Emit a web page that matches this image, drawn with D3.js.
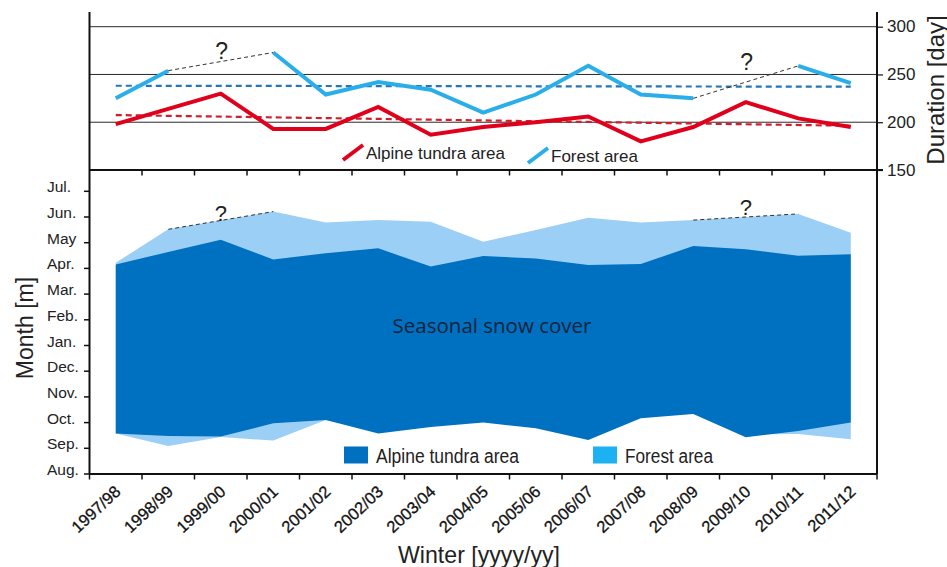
<!DOCTYPE html>
<html>
<head>
<meta charset="utf-8">
<script src="https://cdn.jsdelivr.net/npm/d3@7"></script>
<style>
  html, body { margin: 0; padding: 0; background: #fff; }
  svg { display: block; font-family: "Liberation Sans", Arial, sans-serif; }
</style>
</head>
<body>
<svg id="chart" width="947" height="567"></svg>
<script>
// Winters (Aug–Jul seasons)
const winters = ["1997/98", "1998/99", "1999/00", "2000/01", "2001/02", "2002/03", "2003/04",
  "2004/05", "2005/06", "2006/07", "2007/08", "2008/09", "2009/10", "2010/11", "2011/12"];

// Snow cover duration [days]; null = no record
const durationTundra = [198, 214, 230, 193, 193, 216, 187, 195, 200, 206, 180, 195, 221, 204, 195];
const durationForest = [225, 254, null, 273, 229, 242, 234, 210, 229, 259, 229, 225, null, 259, 241];

// Linear trends of duration (first winter, last winter)
const trendTundra = [207.5, 196.3];
const trendForest = [238.2, 237.2];

// Onset and melt-out of seasonal snow, in months after 1 August
const tundraStart = [1.58, 1.48, 1.46, 1.97, 2.10, 1.58, 1.83, 2.00, 1.78, 1.32, 2.17, 2.33, 1.43, 1.67, 2.00];
const tundraEnd   = [8.15, 8.64, 9.11, 8.35, 8.59, 8.78, 8.07, 8.48, 8.39, 8.13, 8.17, 8.87, 8.75, 8.49, 8.55];
const forestStart = [1.58, 1.09, 1.44, 1.30, 2.10, 1.68, 1.93, 2.10, 1.88, 1.42, 2.27, 2.43, 1.54, 1.56, 1.35];
const forestEnd   = [8.22, 9.52, null, 10.21, 9.79, 9.88, 9.82, 9.04, 9.49, 9.97, 9.79, 9.88, null, 10.12, 9.39];

// Axis ticks
const durationTicks = [150, 200, 250, 300];
const monthLabels = ["Aug.", "Sep.", "Oct.", "Nov.", "Dec.", "Jan.", "Feb.", "Mar.", "Apr.", "May", "Jun.", "Jul."];

const colTundraArea = "#0070c0";
const colForestArea = "#9bcff6";
const colForestKey  = "#1cb1f2";
const colRed = "#e0001b";
const colBlue = "#2aaee9";

// Vertical nudges of the "?" marks above each bridged gap
const qOffsetUpper = [-3, -12];
const qOffsetLower = [1, -2];

const svg = d3.select("#chart");

const x = d3.scaleBand().domain(winters).range([89.5, 877]);
const cx = w => x(w) + x.bandwidth() / 2;
const yDur = d3.scaleLinear().domain([150, 300]).range([170, 26.7]);
const yMon = d3.scaleLinear().domain([0, 11]).range([474, 191.3]);

// ---------- Lower panel: snow cover period ----------
const lower = svg.append("g");

// Forest polygon: melt-out edge skips missing winters, onset edge uses all winters
const forestTop = winters.map((w, i) => ({ w, v: forestEnd[i] })).filter(d => d.v != null);
const forestBottom = winters.map((w, i) => ({ w, v: forestStart[i] })).reverse();
const poly = d3.line().x(d => cx(d.w)).y(d => yMon(d.v));
lower.append("path")
  .attr("d", poly(forestTop.concat(forestBottom)) + "Z")
  .attr("fill", colForestArea);

const tundraArea = d3.area()
  .x(d => cx(d.w))
  .y0(d => yMon(d.s))
  .y1(d => yMon(d.e));
lower.append("path")
  .datum(winters.map((w, i) => ({ w, s: tundraStart[i], e: tundraEnd[i] })))
  .attr("d", tundraArea)
  .attr("fill", colTundraArea);

// Bridges over missing winters
function gaps(values) {
  const out = [];
  values.forEach((v, i) => {
    if (v == null && i > 0 && i < values.length - 1 && values[i - 1] != null) {
      let j = i + 1;
      while (j < values.length && values[j] == null) j++;
      if (j < values.length) out.push({ a: i - 1, b: j, m: i });
    }
  });
  return out;
}

gaps(forestEnd).forEach((g, k) => {
  lower.append("line")
    .attr("x1", cx(winters[g.a])).attr("y1", yMon(forestEnd[g.a]))
    .attr("x2", cx(winters[g.b])).attr("y2", yMon(forestEnd[g.b]))
    .attr("stroke", "#333").attr("stroke-width", 1).attr("stroke-dasharray", "4,3");
  const mid = (yMon(forestEnd[g.a]) + yMon(forestEnd[g.b])) / 2;
  lower.append("text")
    .attr("x", cx(winters[g.m])).attr("y", mid + qOffsetLower[k])
    .attr("text-anchor", "middle")
    .attr("font-size", 22).attr("fill", "#222")
    .text("?");
});

lower.append("text")
  .attr("x", 492).attr("y", 333)
  .attr("text-anchor", "middle")
  .attr("font-family", "'Open Sans', sans-serif")
  .attr("font-size", 20.5)
  .attr("fill", "#15243a")
  .text("Seasonal snow cover");

// Lower legend
const legLow = [
  { label: "Alpine tundra area", color: colTundraArea, x: 344, len: 143 },
  { label: "Forest area", color: colForestKey, x: 593, len: 88 }
];
legLow.forEach(d => {
  lower.append("rect").attr("x", d.x).attr("y", 446.5).attr("width", 24).attr("height", 17)
    .attr("fill", d.color);
  lower.append("text").attr("x", d.x + 32).attr("y", 463)
    .attr("font-size", 20).attr("fill", "#222")
    .attr("textLength", d.len).attr("lengthAdjust", "spacingAndGlyphs")
    .text(d.label);
});

// ---------- Upper panel: duration ----------
const upper = svg.append("g");

upper.selectAll("line.grid")
  .data(durationTicks.filter(t => t > 150))
  .join("line")
  .attr("x1", 89.5).attr("x2", 877)
  .attr("y1", d => yDur(d)).attr("y2", d => yDur(d))
  .attr("stroke", "#2a2a2a").attr("stroke-width", 1);

const trendLine = (vals, color) => {
  upper.append("line")
    .attr("x1", cx(winters[0])).attr("y1", yDur(vals[0]))
    .attr("x2", cx(winters[winters.length - 1])).attr("y2", yDur(vals[1]))
    .attr("stroke", color).attr("stroke-width", 2.2).attr("stroke-dasharray", "6,4");
};
trendLine(trendForest, "#2377b8");
trendLine(trendTundra, "#cf1f2a");

const durLine = d3.line()
  .defined(d => d.v != null)
  .x(d => cx(d.w))
  .y(d => yDur(d.v));

upper.append("path")
  .datum(winters.map((w, i) => ({ w, v: durationForest[i] })))
  .attr("d", durLine)
  .attr("fill", "none").attr("stroke", colBlue).attr("stroke-width", 4)
  .attr("stroke-linejoin", "miter");

upper.append("path")
  .datum(winters.map((w, i) => ({ w, v: durationTundra[i] })))
  .attr("d", durLine)
  .attr("fill", "none").attr("stroke", colRed).attr("stroke-width", 4)
  .attr("stroke-linejoin", "miter");

gaps(durationForest).forEach((g, k) => {
  upper.append("line")
    .attr("x1", cx(winters[g.a])).attr("y1", yDur(durationForest[g.a]))
    .attr("x2", cx(winters[g.b])).attr("y2", yDur(durationForest[g.b]))
    .attr("stroke", "#333").attr("stroke-width", 1).attr("stroke-dasharray", "4,3");
  const mid = (yDur(durationForest[g.a]) + yDur(durationForest[g.b])) / 2;
  upper.append("text")
    .attr("x", cx(winters[g.m]) + 1).attr("y", mid + qOffsetUpper[k])
    .attr("text-anchor", "middle")
    .attr("font-size", 23).attr("fill", "#222")
    .text("?");
});

// Upper legend
const legUp = [
  { label: "Alpine tundra area", color: colRed, x: 343, y: 160 },
  { label: "Forest area", color: colBlue, x: 528, y: 163 }
];
legUp.forEach(d => {
  upper.append("line")
    .attr("x1", d.x).attr("y1", d.y).attr("x2", d.x + 20).attr("y2", d.y - 15)
    .attr("stroke", d.color).attr("stroke-width", 4);
  upper.append("text").attr("x", d.x + 23).attr("y", d.y - 1)
    .attr("font-size", 17).attr("fill", "#222")
    .text(d.label);
});

// ---------- Frame and axes ----------
const frame = svg.append("g").attr("stroke", "#111").attr("fill", "none");
frame.append("line").attr("x1", 89.5).attr("x2", 89.5).attr("y1", 12).attr("y2", 474).attr("stroke-width", 2);
frame.append("line").attr("x1", 877).attr("x2", 877).attr("y1", 12).attr("y2", 474).attr("stroke-width", 2);
frame.append("line").attr("x1", 89.5).attr("x2", 877).attr("y1", 474).attr("y2", 474).attr("stroke-width", 2);

// Right duration axis
const rightAxis = d3.axisRight(yDur).tickValues(durationTicks).tickSize(6).tickPadding(4);
const ra = svg.append("g").attr("transform", "translate(877,0)").call(rightAxis);
ra.select(".domain").remove();
ra.selectAll(".tick line").attr("stroke", "#111").attr("stroke-width", 1.2);
ra.selectAll(".tick text").attr("font-size", 17).attr("fill", "#222")
  .attr("font-family", "'Liberation Sans', Arial, sans-serif").attr("dy", "0.3em");
// Separating baseline at 150 days
svg.append("line").attr("x1", 89.5).attr("x2", 883).attr("y1", yDur(150)).attr("y2", yDur(150))
  .attr("stroke", "#111").attr("stroke-width", 2);

// Band boundary ticks on separator and bottom axis
const bounds = winters.map(w => x(w)).concat([x.range()[1]]);
svg.append("g").selectAll("line")
  .data(bounds.slice(1, -1))
  .join("line")
  .attr("x1", d => d).attr("x2", d => d)
  .attr("y1", yDur(150)).attr("y2", yDur(150) + 5.5)
  .attr("stroke", "#111").attr("stroke-width", 1.5);
svg.append("g").selectAll("line")
  .data(bounds)
  .join("line")
  .attr("x1", d => d).attr("x2", d => d)
  .attr("y1", 474).attr("y2", 479.5)
  .attr("stroke", "#111").attr("stroke-width", 1.5);

// Winter labels
svg.append("g").selectAll("text")
  .data(winters)
  .join("text")
  .attr("transform", d => `translate(${cx(d) + 6},${493}) rotate(-43)`)
  .attr("text-anchor", "end")
  .attr("font-size", 16.5).attr("fill", "#111")
  .attr("stroke", "#111").attr("stroke-width", 0.3)
  .text(d => d);

// Month axis
const monthAxis = svg.append("g");
monthAxis.selectAll("line")
  .data(monthLabels)
  .join("line")
  .attr("x1", 84).attr("x2", 89.5)
  .attr("y1", (d, i) => yMon(i)).attr("y2", (d, i) => yMon(i))
  .attr("stroke", "#111").attr("stroke-width", 1.5);
monthAxis.selectAll("text")
  .data(monthLabels)
  .join("text")
  .attr("x", 47).attr("y", (d, i) => yMon(i) + 1)
  .attr("font-size", 15.5).attr("fill", "#222")
  .text(d => d);

// Axis titles
svg.append("text")
  .attr("transform", "translate(25,328) rotate(-90)")
  .attr("text-anchor", "middle").attr("dominant-baseline", "central")
  .attr("font-size", 23).attr("fill", "#222")
  .text("Month [m]");
svg.append("text")
  .attr("transform", "translate(935,90) rotate(-90)")
  .attr("text-anchor", "middle").attr("dominant-baseline", "central")
  .attr("font-size", 24).attr("fill", "#222")
  .text("Duration [day]");
svg.append("text")
  .attr("x", 479).attr("y", 563)
  .attr("text-anchor", "middle")
  .attr("font-size", 24).attr("fill", "#222")
  .attr("textLength", 162).attr("lengthAdjust", "spacingAndGlyphs")
  .text("Winter [yyyy/yy]");
</script>
</body>
</html>
